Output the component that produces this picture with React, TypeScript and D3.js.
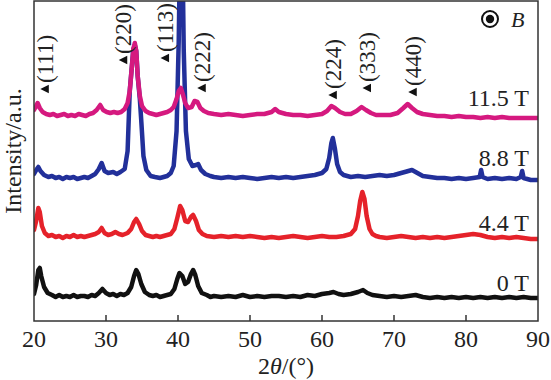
import React from "react";
import * as d3 from "d3";

// ---------- data ----------
const xTicks = [20, 30, 40, 50, 60, 70, 80, 90];

// [2θ, intensity] – each pattern carries its own vertical offset
const series0T: [number, number][] = [
  [20.0, 27], [20.3, 36], [20.6, 51], [20.8, 53], [21.0, 45], [21.4, 34], [21.9, 28], [22.5, 26], [23, 24], [23.5, 26],
  [24, 24], [24.5, 25], [25, 24], [25.5, 26], [26, 24], [26.5, 25], [27, 25], [27.5, 24], [28, 26], [28.5, 25],
  [29, 28], [29.5, 32], [30, 28], [30.5, 26], [31, 27], [31.5, 25], [32, 27], [32.5, 26], [33, 28], [33.5, 34],
  [33.9, 45], [34.2, 51], [34.5, 47], [34.9, 37], [35.4, 29], [36, 26], [36.5, 25], [37, 26], [37.5, 24], [38, 25],
  [38.5, 26], [39, 27], [39.5, 32], [39.9, 42], [40.2, 48], [40.6, 45], [41.0, 37], [41.4, 39], [41.8, 47], [42.1, 51],
  [42.4, 46], [42.8, 35], [43.3, 28], [44, 26], [44.5, 24], [45, 25], [46, 24], [47, 25], [48, 24], [49, 26],
  [50, 24], [51, 25], [52, 24], [53, 25], [54, 25], [55, 24], [56, 25], [57, 24], [58, 26], [59, 25],
  [60, 27], [61, 28], [61.6, 29], [62.3, 27], [63, 26], [64, 27], [65, 29], [65.7, 31], [66.3, 28], [67, 26],
  [68, 25], [69, 24], [70, 25], [71, 24], [72, 25], [73, 26], [74, 24], [75, 23], [76, 24], [77, 23],
  [78, 24], [79, 23], [80, 24], [81, 23], [82, 24], [83, 23], [84, 24], [85, 23], [86, 24], [87, 23],
  [88, 24], [89, 23], [90, 23],
];

const series44T: [number, number][] = [
  [20.0, 91], [20.3, 100], [20.6, 113], [20.8, 109], [21.1, 95], [21.5, 88], [22, 85], [22.5, 86], [23, 84], [23.5, 85],
  [24, 83], [24.5, 85], [25, 84], [25.5, 86], [26, 84], [26.5, 85], [27, 84], [27.5, 85], [28, 86], [28.5, 87],
  [29, 89], [29.4, 93], [29.8, 88], [30.3, 86], [30.8, 87], [31.3, 89], [31.8, 87], [32.3, 86], [33, 88], [33.5, 92],
  [33.9, 99], [34.2, 102], [34.6, 97], [35, 90], [35.5, 86], [36, 85], [36.5, 84], [37, 85], [37.5, 84], [38, 85],
  [38.5, 86], [39, 87], [39.5, 92], [39.9, 103], [40.3, 115], [40.6, 111], [41.0, 100], [41.4, 99], [41.8, 104], [42.1, 106],
  [42.5, 100], [42.9, 91], [43.4, 87], [44, 85], [45, 84], [46, 85], [47, 84], [48, 85], [49, 84], [50, 85],
  [51, 84], [52, 83], [53, 84], [54, 83], [55, 84], [56, 85], [57, 84], [58, 83], [59, 84], [60, 85],
  [61, 84], [62, 84], [63, 85], [64, 87], [64.6, 92], [65.0, 105], [65.3, 120], [65.6, 129], [65.9, 122], [66.2, 105],
  [66.6, 92], [67, 87], [67.5, 85], [68, 84], [69, 83], [70, 84], [71, 85], [72, 84], [73, 83], [74, 84],
  [75, 83], [76, 84], [77, 83], [78, 84], [79, 85], [80, 86], [81, 87], [82, 86], [83, 84], [84, 83],
  [85, 84], [86, 83], [87, 84], [88, 83], [89, 82], [90, 82],
];

const series88T: [number, number][] = [
  [20.0, 147], [20.4, 152], [20.6, 154], [20.9, 150], [21.4, 146], [22, 144], [22.5, 145], [23, 143], [23.5, 144], [24, 142],
  [24.5, 144], [25, 143], [25.5, 144], [26, 142], [26.5, 143], [27, 144], [27.5, 143], [28, 145], [28.5, 147], [29, 152],
  [29.4, 158], [29.8, 150], [30.3, 148], [31, 149], [31.5, 147], [32, 149], [32.6, 152], [33.0, 170], [33.3, 230], [33.6, 255],
  [33.8, 272], [34.0, 276], [34.2, 270], [34.4, 245], [34.7, 222], [34.9, 200], [35.2, 165], [35.6, 151], [36.2, 145], [36.8, 144],
  [37.5, 143], [38, 144], [38.5, 145], [39, 148], [39.4, 155], [39.8, 190], [40.1, 280], [40.3, 380], [40.6, 380], [40.8, 270],
  [41.1, 190], [41.5, 162], [42, 155], [42.5, 156], [42.8, 157], [43.2, 151], [43.8, 147], [44.5, 145], [45, 144], [46, 143],
  [47, 144], [48, 143], [49, 144], [50, 143], [51, 142], [52, 143], [53, 144], [54, 143], [55, 144], [56, 143],
  [57, 144], [58, 145], [59, 146], [60, 148], [60.6, 152], [61.0, 163], [61.3, 178], [61.5, 183], [61.8, 172], [62.1, 157],
  [62.5, 149], [63, 146], [64, 144], [65, 145], [66, 144], [67, 145], [68, 146], [69, 145], [70, 146], [71, 148],
  [72, 150], [72.5, 151], [73, 149], [74, 145], [75, 144], [76, 143], [77, 143], [78, 142], [79, 143], [80, 142],
  [81, 143], [81.9, 144], [82.1, 151], [82.3, 144], [83, 142], [84, 143], [85, 142], [86, 143], [87, 142], [87.6, 144],
  [87.8, 150], [88, 143], [89, 141], [90, 141],
];

const series115T: [number, number][] = [
  [20.0, 211], [20.3, 215], [20.5, 218], [20.8, 213], [21.2, 209], [21.7, 207], [22.2, 206], [22.7, 207], [23.2, 205], [23.7, 206],
  [24.2, 207], [24.7, 205], [25.2, 206], [25.7, 205], [26.2, 207], [26.7, 206], [27.2, 205], [27.7, 207], [28.2, 208], [28.7, 211],
  [29.2, 216], [29.6, 211], [30.1, 209], [30.6, 208], [31.1, 209], [31.6, 208], [32.1, 209], [32.6, 212], [33.0, 218], [33.3, 230],
  [33.6, 255], [33.8, 272], [34.0, 278], [34.2, 270], [34.4, 245], [34.7, 225], [35.0, 215], [35.5, 210], [36, 208], [36.5, 207],
  [37, 206], [37.5, 207], [38, 208], [38.5, 209], [39, 211], [39.4, 214], [39.8, 222], [40.1, 230], [40.4, 233], [40.7, 226],
  [41.0, 218], [41.4, 213], [41.9, 214], [42.3, 220], [42.7, 219], [43.1, 213], [43.6, 210], [44.2, 208], [45, 207], [46, 206],
  [47, 207], [48, 206], [49, 205], [50, 206], [51, 207], [52, 207], [53, 209], [53.5, 212], [54, 209], [55, 207],
  [56, 206], [57, 206], [58, 205], [59, 206], [60, 207], [60.7, 210], [61.3, 215], [61.8, 213], [62.5, 209], [63.2, 207],
  [64, 207], [64.8, 210], [65.5, 214], [66.1, 211], [66.8, 208], [67.5, 206], [68.5, 206], [69.5, 206], [70.5, 208], [71.3, 213],
  [71.9, 217], [72.5, 213], [73.2, 209], [74, 207], [75, 206], [76, 205], [77, 205], [78, 204], [79, 205], [80, 204],
  [81, 204], [82, 203], [83, 204], [84, 203], [85, 204], [86, 203], [87, 203], [88, 203], [89, 203], [90, 203],
];

const seriesNames = ["0 T", "4.4 T", "8.8 T", "11.5 T"];
const seriesData = [series0T, series44T, series88T, series115T];
const seriesColors = ["#111111", "#e5222a", "#22309a", "#d5197f"];
const seriesLabelLevels = [30, 90, 155, 215];

const peakLabels = ["(111)", "(220)", "(113)", "(222)", "(224)", "(333)", "(440)"];
const peakLabelAngles = [21.5, 32.4, 38.2, 43.3, 61.5, 66.25, 72.6];
const peakLabelLevels = [232, 261, 263, 233, 226, 233, 229];

// ---------- layout ----------
const W = 551;
const H = 380;
const left = 34, right = 538, top = 1, bottom = 321;
const FONT = "'Liberation Serif', 'Times New Roman', serif";

export default function App() {
  const x = d3.scaleLinear().domain([20, 90]).range([left, right]);
  const y = d3.scaleLinear().domain([0, 320]).range([bottom, top]);
  const line = d3
    .line<[number, number]>()
    .x((d) => x(d[0]))
    .y((d) => y(d[1]))
    .curve(d3.curveLinear);

  const txt = { fontFamily: FONT };

  return (
    <svg
      width={W}
      height={H}
      style={{ position: "absolute", left: 0, top: 0, background: "#fff" }}
      fontFamily={FONT}
    >
      <defs>
        <clipPath id="plotClip">
          <rect x={left} y={top} width={right - left} height={bottom - top} />
        </clipPath>
      </defs>

      <g clipPath="url(#plotClip)">
        {seriesData.map((s, i) => (
          <path
            key={seriesNames[i]}
            d={line(s) || ""}
            fill="none"
            stroke={seriesColors[i]}
            strokeWidth={4.5}
            strokeLinejoin="round"
            strokeLinecap="round"
          />
        ))}
      </g>

      {/* series labels */}
      {seriesNames.map((n, i) => (
        <text
          key={n}
          x={529}
          y={y(seriesLabelLevels[i])}
          textAnchor="end"
          fontSize={24}
          fill="#222"
          style={txt}
        >
          {n}
        </text>
      ))}

      {/* peak labels */}
      {peakLabels.map((lab, i) => {
        const cx = x(peakLabelAngles[i]);
        const cy = y(peakLabelLevels[i]);
        const tri = `M${cx - 4.5},${cy} L${cx + 4},${cy - 4.2} L${cx + 4},${cy + 4.2} Z`;
        return (
          <g key={lab}>
            <path d={tri} fill="#111" />
            <text
              transform={`translate(${cx + 0.5},${cy - 6}) rotate(-90)`}
              textAnchor="start"
              dominantBaseline="central"
              fontSize={23}
              fill="#222"
              style={txt}
            >
              {lab}
            </text>
          </g>
        );
      })}

      {/* B-field legend */}
      <circle cx={490} cy={19} r={8} fill="none" stroke="#111" strokeWidth={2} />
      <circle cx={490} cy={19} r={4.2} fill="#111" />
      <text x={511} y={27} fontSize={22} fontStyle="italic" fill="#222" style={txt}>
        B
      </text>

      {/* frame */}
      <rect
        x={left}
        y={top}
        width={right - left}
        height={bottom - top}
        fill="none"
        stroke="#333"
        strokeWidth={1.5}
      />

      {/* x ticks */}
      {xTicks.map((t) => (
        <g key={t}>
          {t !== 20 && t !== 90 && (
            <line x1={x(t)} x2={x(t)} y1={bottom} y2={bottom - 6} stroke="#333" strokeWidth={1.5} />
          )}
          <text x={x(t)} y={347} textAnchor="middle" fontSize={24} fill="#222" style={txt}>
            {t}
          </text>
        </g>
      ))}

      {/* axis titles */}
      <text x={x(55)} y={374} textAnchor="middle" fontSize={24} fill="#222" style={txt}>
        2<tspan fontStyle="italic">θ</tspan>/(°)
      </text>
      <text
        transform={`translate(21,151) rotate(-90)`}
        textAnchor="middle"
        fontSize={24}
        fill="#222"
        style={txt}
      >
        Intensity/a.u.
      </text>
    </svg>
  );
}
